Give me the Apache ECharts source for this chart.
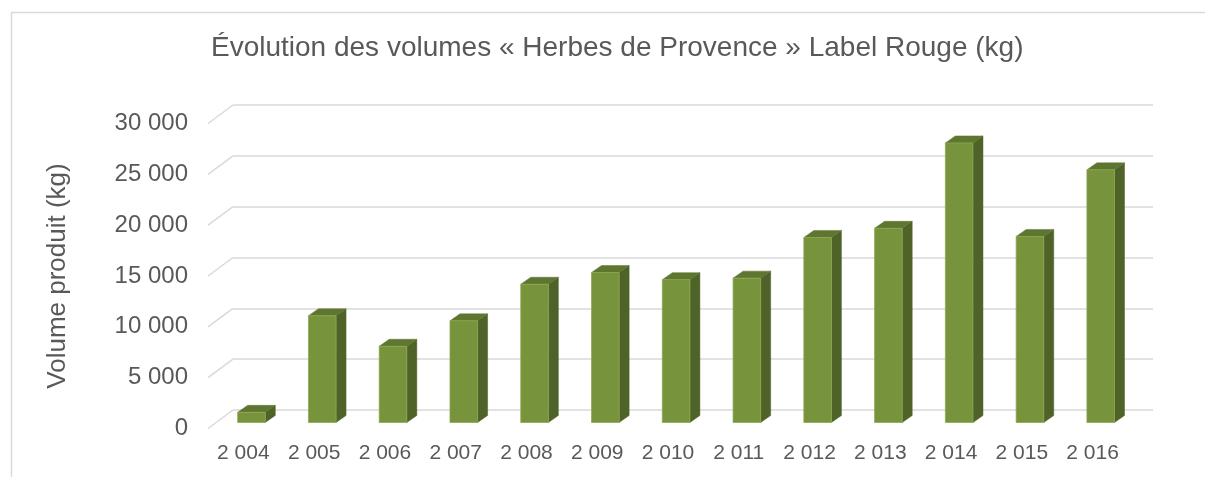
<!DOCTYPE html>
<html>
<head>
<meta charset="utf-8">
<script src="https://cdn.jsdelivr.net/npm/echarts@6/dist/echarts.min.js"></script>
<style>
html, body { margin: 0; padding: 0; background: #fff; }
#chart { width: 1205px; height: 477px; }
</style>
</head>
<body>
<div id="chart"></div>
<script>
// données
const years = ["2 004", "2 005", "2 006", "2 007", "2 008", "2 009", "2 010", "2 011", "2 012", "2 013", "2 014", "2 015", "2 016"];
const volumes = [1000, 10500, 7500, 10000, 13600, 14750, 14050, 14200, 18200, 19100, 27500, 18300, 24850];
const yTicks = [0, 5000, 10000, 15000, 20000, 25000, 30000];

const textColor = "#595959";
const gridColor = "#d9d9d9";
const font = "'Liberation Sans', Arial, sans-serif";

// plan avant du sol, décalages vers le plan des barres et le fond
const front = { left: 208, right: 77, top: 123.5, bottom: 48.5 };
const barOff = [8.1, -6];
const backOff = [25, -18.5];
const barDepth = [10, -7];

function fmt(v) {
  return String(v).replace(/\B(?=(\d{3})+(?!\d))/g, " ");
}

function shiftGrid(off) {
  return {
    left: front.left + off[0],
    right: front.right - off[0],
    top: front.top + off[1],
    bottom: front.bottom - off[1]
  };
}

const chart = echarts.init(document.getElementById("chart"));

const valueAxis = { type: "value", min: 0, max: 30000, interval: 5000 };

const option = {
  animation: false,
  textStyle: { fontFamily: font },
  title: {
    text: "Évolution des volumes « Herbes de Provence » Label Rouge (kg)",
    left: 206,
    top: 29,
    textStyle: { color: textColor, fontSize: 28, fontWeight: "normal", fontFamily: font }
  },
  graphic: [
    {
      type: "rect",
      silent: true,
      shape: { x: 11.5, y: 12.5, width: 1400, height: 700 },
      style: { fill: "none", stroke: gridColor, lineWidth: 1.5 }
    }
  ],
  grid: [front, shiftGrid(barOff), shiftGrid(backOff)],
  xAxis: [0, 1, 2].map(i => ({
    type: "category",
    gridIndex: i,
    data: years,
    axisLine: { show: false },
    axisTick: { show: false },
    axisLabel: {
      show: i === 0,
      color: textColor,
      fontSize: 21,
      margin: 14
    }
  })),
  yAxis: [0, 1, 2].map(i => Object.assign({}, valueAxis, {
    gridIndex: i,
    name: i === 0 ? "Volume produit (kg)" : "",
    nameLocation: "middle",
    nameGap: 137,
    nameTextStyle: { color: textColor, fontSize: 26 },
    axisLine: { show: false },
    axisTick: { show: false },
    axisLabel: {
      show: i === 0,
      color: textColor,
      fontSize: 24,
      margin: 20,
      formatter: fmt
    },
    splitLine: {
      show: i === 2,
      lineStyle: { color: gridColor, width: 1.5 }
    }
  })),
  series: [
    {
      // diagonales du sol vers le fond
      type: "custom",
      xAxisIndex: 0,
      yAxisIndex: 0,
      silent: true,
      data: yTicks.map(v => [0, v]),
      renderItem(params, api) {
        const x = params.coordSys.x;
        const y = api.coord([0, api.value(1)])[1];
        return {
          type: "line",
          shape: { x1: x, y1: y, x2: x + backOff[0], y2: y + backOff[1] },
          style: { stroke: gridColor, lineWidth: 1.5 }
        };
      }
    },
    {
      type: "custom",
      xAxisIndex: 1,
      yAxisIndex: 1,
      z: 5,
      data: volumes.map((v, i) => [i, v]),
      renderItem(params, api) {
        const top = api.coord([api.value(0), api.value(1)]);
        const base = api.coord([api.value(0), 0]);
        const w = api.size([1, 0])[0] * 0.39;
        const x0 = top[0] - w / 2;
        const x1 = top[0] + w / 2;
        const dx = barDepth[0], dy = barDepth[1];
        return {
          type: "group",
          children: [
            {
              type: "polygon",
              shape: { points: [[x1, base[1]], [x1, top[1]], [x1 + dx, top[1] + dy], [x1 + dx, base[1] + dy]] },
              style: { fill: "#4f6228", stroke: "#4f6228", lineWidth: 0.5 }
            },
            {
              type: "polygon",
              shape: { points: [[x0, top[1]], [x1, top[1]], [x1 + dx, top[1] + dy], [x0 + dx, top[1] + dy]] },
              style: { fill: "#5e7630", stroke: "#5e7630", lineWidth: 0.5 }
            },
            {
              type: "rect",
              shape: { x: x0, y: top[1], width: w, height: base[1] - top[1] },
              style: { fill: "#77933c", stroke: "#8daa52", lineWidth: 0.8 }
            }
          ]
        };
      }
    }
  ]
};

chart.setOption(option);
</script>
</body>
</html>
